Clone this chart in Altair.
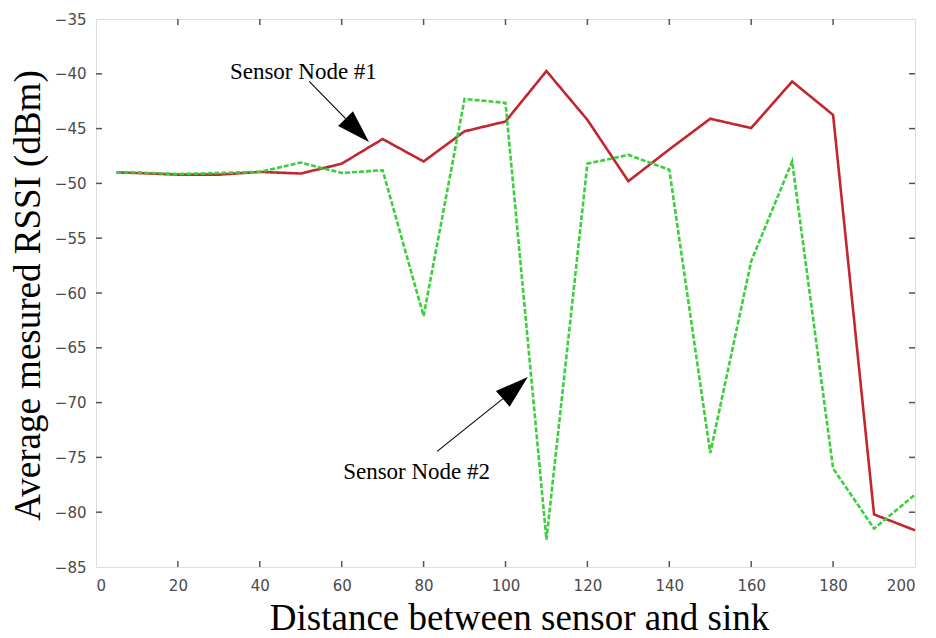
import altair as alt
import pandas as pd

# ---- data ----
distance = [5, 10, 20, 30, 40, 50, 60, 70, 80, 90, 100, 110, 120, 130, 140, 150, 160, 170, 180, 190, 200]
node1 = [-49.0, -49.05, -49.2, -49.2, -48.95, -49.1, -48.2, -45.95, -48.0, -45.25, -44.35,
         -39.75, -44.2, -49.8, -46.9, -44.1, -44.95, -40.7, -43.75, -80.2, -81.65]
node2 = [-49.0, -49.0, -49.15, -49.05, -48.95, -48.1, -49.05, -48.8, -62.1, -42.3, -42.65,
         -82.5, -48.2, -47.4, -48.75, -74.6, -57.1, -48.0, -76.0, -81.5, -78.4]
series_names = ["Sensor Node #1", "Sensor Node #2"]
x_ticks = [0, 20, 40, 60, 80, 100, 120, 140, 160, 180, 200]
y_ticks = [-85, -80, -75, -70, -65, -60, -55, -50, -45, -40, -35]
x_inner_ticks = [20, 40, 60, 80, 100, 120, 140, 160, 180]
y_inner_ticks = [-80, -75, -70, -65, -60, -55, -50, -45, -40]

# annotation labels (data coordinates)
ann_text = ["Sensor Node #1", "Sensor Node #2"]
ann_x = [32.7, 60.35]
ann_y = [-40.47, -76.97]
# arrow shafts
shaft_x = [52.06, 83.3]
shaft_y = [-40.69, -74.45]
shaft_x2 = [60.96, 99.3]
shaft_y2 = [-44.08, -69.66]
# arrow heads (centre + direction)
head_x = [63.8, 102.4]
head_y = [-45.15, -68.66]
head_angle = [135, 49]

RED = "#c1272d"
GREEN = "#3ccf3c"
W, H = 819, 548

df = pd.DataFrame({
    "distance": distance * 2,
    "rssi": node1 + node2,
    "series": [series_names[0]] * len(distance) + [series_names[1]] * len(distance),
})

xs = alt.Scale(domain=[0, 200], nice=False, zero=False)
ys = alt.Scale(domain=[-85, -35], nice=False, zero=False)

x_axis = alt.Axis(
    values=x_ticks, grid=False, ticks=False, domain=False,
    labelFont="DejaVu Sans", labelFontSize=15, labelColor="#4a4a4a", labelPadding=11,
    title="Distance between sensor and sink", titleFont="Liberation Serif", titleFontSize=37,
    titleFontWeight="normal", titleColor="black", titleX=423, titleY=62,
    titleBaseline="alphabetic", titleAlign="center",
)
y_axis = alt.Axis(
    values=y_ticks, grid=False, ticks=False, domain=False,
    labelFont="DejaVu Sans", labelFontSize=15, labelColor="#4a4a4a", labelPadding=10,
    title="Average mesured RSSI (dBm)", titleFont="Liberation Serif", titleFontSize=37,
    titleFontWeight="normal", titleColor="black", titleX=-57, titleY=276,
    titleAngle=270, titleBaseline="alphabetic", titleAlign="center",
)

lines = alt.Chart(df).mark_line(strokeWidth=2.6).encode(
    x=alt.X("distance:Q", scale=xs, axis=x_axis),
    y=alt.Y("rssi:Q", scale=ys, axis=y_axis),
    color=alt.Color("series:N", scale=alt.Scale(domain=series_names, range=[RED, GREEN]), legend=None),
    strokeDash=alt.StrokeDash("series:N", scale=alt.Scale(domain=series_names, range=[[1, 0], [5, 2]]), legend=None),
    order=alt.Order("series:N", sort="descending"),
)

# inner tick marks
xt = pd.DataFrame({"v": x_inner_ticks})
yt = pd.DataFrame({"v": y_inner_ticks})
tick_style = dict(color="#555", strokeWidth=1.5)
xt_bottom = alt.Chart(xt).mark_rule(**tick_style).encode(
    x=alt.X("v:Q", scale=xs), y=alt.value(H), y2=alt.value(H - 6))
xt_top = alt.Chart(xt).mark_rule(**tick_style).encode(
    x=alt.X("v:Q", scale=xs), y=alt.value(0), y2=alt.value(6))
yt_left = alt.Chart(yt).mark_rule(**tick_style).encode(
    y=alt.Y("v:Q", scale=ys), x=alt.value(0), x2=alt.value(6))
yt_right = alt.Chart(yt).mark_rule(**tick_style).encode(
    y=alt.Y("v:Q", scale=ys), x=alt.value(W), x2=alt.value(W - 6))

ann_df = pd.DataFrame({"t": ann_text, "x": ann_x, "y": ann_y})
labels = alt.Chart(ann_df).mark_text(
    font="Liberation Serif", fontSize=23, align="left", baseline="alphabetic", color="black"
).encode(x=alt.X("x:Q", scale=xs), y=alt.Y("y:Q", scale=ys), text="t:N")

shaft_df = pd.DataFrame({"x": shaft_x, "y": shaft_y, "x2": shaft_x2, "y2": shaft_y2})
shafts = alt.Chart(shaft_df).mark_rule(color="black", strokeWidth=1.1).encode(
    x=alt.X("x:Q", scale=xs), y=alt.Y("y:Q", scale=ys), x2="x2:Q", y2="y2:Q")

head_df = pd.DataFrame({"x": head_x, "y": head_y, "a": head_angle})
heads = alt.Chart(head_df).mark_point(
    shape="M0,-1L0.63,1L-0.63,1Z", size=1100, filled=True, color="black", opacity=1
).encode(x=alt.X("x:Q", scale=xs), y=alt.Y("y:Q", scale=ys), angle=alt.Angle("a:Q", scale=None))

chart = alt.layer(
    lines, xt_bottom, xt_top, yt_left, yt_right, shafts, heads, labels
).properties(
    width=W, height=H,
    autosize=alt.AutoSizeParams(type="none"),
    padding={"left": 88, "top": 11, "right": 10, "bottom": 71},
).configure_view(
    stroke="#555", strokeWidth=1.6
).configure(background="white")

chart.save("out.html", embed_options={"renderer": "svg", "actions": False})
